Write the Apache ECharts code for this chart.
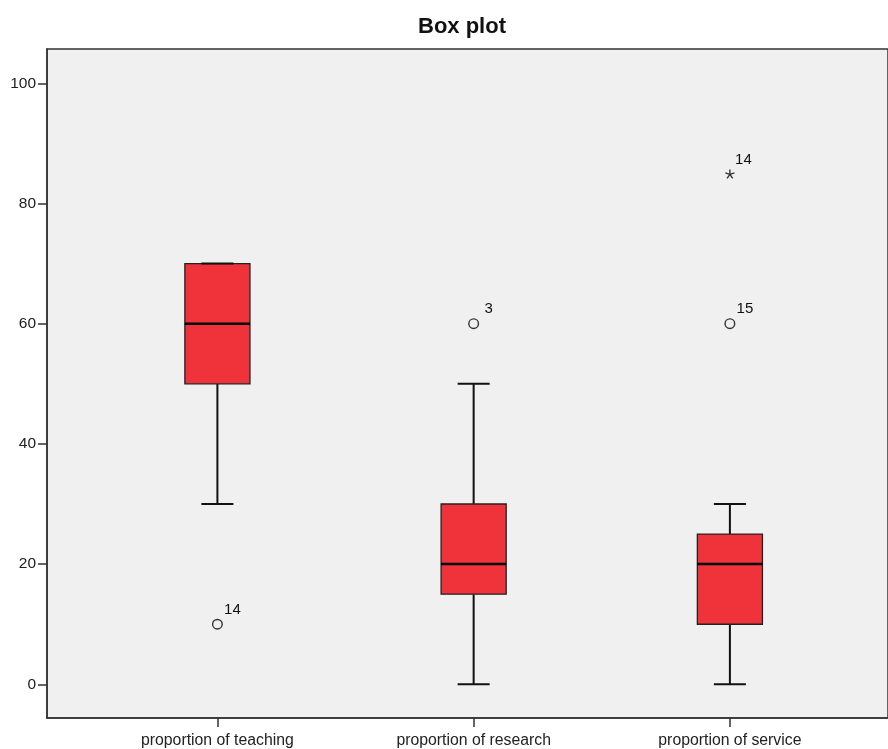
<!DOCTYPE html>
<html><head><meta charset="utf-8">
<script src="https://cdn.jsdelivr.net/npm/echarts@6/dist/echarts.min.js"></script>
<style>html,body{margin:0;padding:0;background:#fff}#c{width:888px;height:749px}</style>
</head><body><div id="c"></div>
<script>
const categories = ['proportion of teaching', 'proportion of research', 'proportion of service'];
const positions = [1, 2, 3];
const minVals = [30, 0, 0];
const q1Vals = [50, 15, 10];
const medianVals = [60, 20, 20];
const q3Vals = [70, 30, 25];
const maxVals = [70, 50, 30];
const outlierPos = [1, 2, 3];
const outlierVals = [10, 60, 60];
const outlierLabels = ['14', '3', '15'];
const extremePos = [3];
const extremeVals = [85];
const extremeLabels = ['14'];
const yTicks = [0, 20, 40, 60, 80, 100];

const boxData = positions.map((p, i) => [p, minVals[i], q1Vals[i], medianVals[i], q3Vals[i], maxVals[i]]);
const outData = outlierPos.map((p, i) => [p, outlierVals[i], outlierLabels[i]]);
const extData = extremePos.map((p, i) => [p, extremeVals[i], extremeLabels[i]]);

const BOX_W = 0.254, CAP_W = 0.125;
const FONT = '"Liberation Sans", Arial, sans-serif';

function renderBox(params, api) {
  const x = api.value(0);
  const pMin = api.coord([x, api.value(1)]);
  const pQ1 = api.coord([x, api.value(2)]);
  const pMed = api.coord([x, api.value(3)]);
  const pQ3 = api.coord([x, api.value(4)]);
  const pMax = api.coord([x, api.value(5)]);
  const l = api.coord([x - BOX_W / 2, 0])[0];
  const r = api.coord([x + BOX_W / 2, 0])[0];
  const cl = api.coord([x - CAP_W / 2, 0])[0];
  const cr = api.coord([x + CAP_W / 2, 0])[0];
  const cx = pMed[0];
  const ls = {stroke: '#111', lineWidth: 2};
  return {type: 'group', children: [
    {type: 'line', shape: {x1: cx, y1: pQ3[1], x2: cx, y2: pMax[1]}, style: ls},
    {type: 'line', shape: {x1: cx, y1: pQ1[1], x2: cx, y2: pMin[1]}, style: ls},
    {type: 'rect', shape: {x: l, y: pQ3[1], width: r - l, height: pQ1[1] - pQ3[1]},
      style: {fill: '#F0323A', stroke: '#222', lineWidth: 1.3}},
    {type: 'line', shape: {x1: l, y1: pMed[1], x2: r, y2: pMed[1]}, style: {stroke: '#000', lineWidth: 2.5}},
    {type: 'line', shape: {x1: cl, y1: pMax[1], x2: cr, y2: pMax[1]}, style: ls},
    {type: 'line', shape: {x1: cl, y1: pMin[1], x2: cr, y2: pMin[1]}, style: ls}
  ]};
}

function labelEl(p, txt) {
  return {type: 'text', x: p[0] + 15, y: p[1] - 14.5,
    style: {text: txt, fill: '#111', font: '15px ' + FONT, textVerticalAlign: 'middle', textAlign: 'center'}};
}

function renderOutlier(params, api) {
  const p = api.coord([api.value(0), api.value(1)]);
  return {type: 'group', children: [
    {type: 'circle', shape: {cx: p[0], cy: p[1], r: 4.8}, style: {fill: 'none', stroke: '#333', lineWidth: 1.4}},
    labelEl(p, api.value(2))
  ]};
}

function renderExtreme(params, api) {
  const p = api.coord([api.value(0), api.value(1)]);
  const s = 4.8, st = {stroke: '#333', lineWidth: 1.4};
  const d = s * Math.cos(Math.PI / 10), e = s * Math.sin(Math.PI / 10);
  const e2 = s * Math.sin(Math.PI * 3 / 10), d2 = s * Math.cos(Math.PI * 3 / 10);
  const q = [p[0], p[1] + 1];
  return {type: 'group', children: [
    {type: 'line', shape: {x1: q[0], y1: q[1], x2: q[0], y2: q[1] - s}, style: st},
    {type: 'line', shape: {x1: q[0], y1: q[1], x2: q[0] + d, y2: q[1] - e}, style: st},
    {type: 'line', shape: {x1: q[0], y1: q[1], x2: q[0] - d, y2: q[1] - e}, style: st},
    {type: 'line', shape: {x1: q[0], y1: q[1], x2: q[0] + d2, y2: q[1] + e2}, style: st},
    {type: 'line', shape: {x1: q[0], y1: q[1], x2: q[0] - d2, y2: q[1] + e2}, style: st},
    {type: 'text', x: p[0] + 13.5, y: p[1] - 13.5,
      style: {text: api.value(2), fill: '#111', font: '15px ' + FONT, textVerticalAlign: 'middle', textAlign: 'center'}}
  ]};
}

const chart = echarts.init(document.getElementById('c'), null, {renderer: 'canvas'});
chart.setOption({
  animation: false,
  backgroundColor: '#ffffff',
  title: {text: 'Box plot', left: 457, top: 11, textAlign: 'center',
    textStyle: {fontFamily: FONT, fontSize: 22, fontWeight: 'bold', color: '#111'}},
  grid: {left: 47, top: 49, right: -3, bottom: 31, show: true, backgroundColor: '#F0F0F0',
    borderColor: '#333', borderWidth: 1.5},
  xAxis: {
    type: 'value', min: 0.335, max: 3.617,
    splitLine: {show: false},
    axisLine: {show: true, onZero: false, lineStyle: {color: '#333', width: 1.5}},
    axisTick: {show: true, customValues: positions, length: 9, lineStyle: {color: '#333', width: 1.5}},
    axisLabel: {customValues: positions, margin: 15, color: '#222', fontFamily: FONT, fontSize: 15.8,
      formatter: v => categories[Math.round(v) - 1] || ''}
  },
  yAxis: {
    type: 'value', min: -5.6, max: 105.7,
    splitLine: {show: false},
    axisLine: {show: true, onZero: false, lineStyle: {color: '#333', width: 1.5}},
    axisTick: {show: true, customValues: yTicks, length: 9, lineStyle: {color: '#333', width: 1.5}},
    axisLabel: {customValues: yTicks, margin: 11, color: '#222', fontFamily: FONT, fontSize: 15.5}
  },
  series: [
    {type: 'custom', renderItem: renderBox, data: boxData, clip: true},
    {type: 'custom', renderItem: renderOutlier, data: outData},
    {type: 'custom', renderItem: renderExtreme, data: extData}
  ]
});
</script></body></html>
